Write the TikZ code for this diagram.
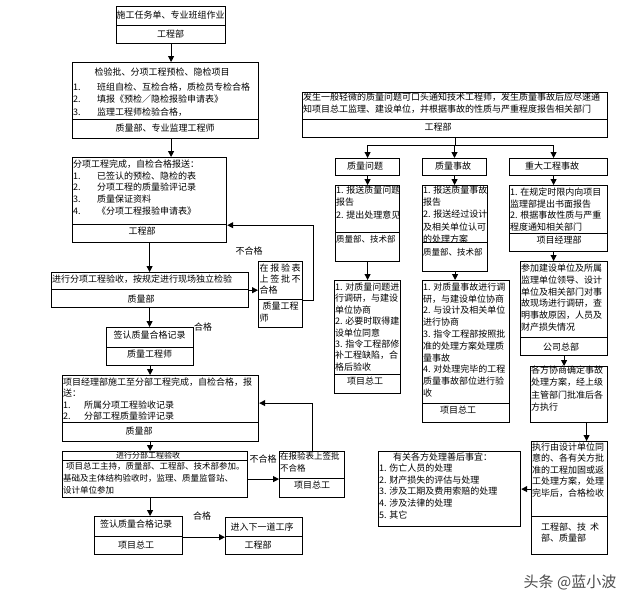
\documentclass[tikz,border=0pt]{standalone}
\usepackage{fontspec}
\setmainfont{Noto Sans CJK SC}
\usetikzlibrary{arrows.meta}
\newcommand\bxx[5]{\node[bx, minimum width={(#4-#2)*1pt}, minimum height={(#5-#3)*1pt}] (#1) at (#2,#3) {};}
\newcommand\nb[2][24pt]{\makebox[#1][l]{#2}}
\tikzset{
  bx/.style={draw, line width=1.2pt, inner sep=0pt, anchor=north west},
  tx/.style={inner sep=0pt, font=\fontsize{9}{11.7}\selectfont, align=left},
  arr/.style={line width=1pt, -{Triangle[length=6pt,width=6pt]}},
  ln/.style={line width=1pt},
  lab/.style={inner sep=0pt, font=\fontsize{9}{11}\selectfont}
}
\begin{document}
\begin{tikzpicture}[x=1pt,y=-1pt]
\fill[white] (0,0) rectangle (640,603);
\useasboundingbox (0,0) rectangle (640,603);

% ---------- left column ----------
\bxx{B1t}{116}{6}{225}{25}
\bxx{B1f}{116}{25}{225}{43}
\node[tx] (B1a) at (170.5,15) {施工任务单、专业班组作业};
\node[tx] (B1b) at (170.5,34) {工程部};

\bxx{B2t}{72}{62}{258}{119}
\bxx{B2f}{72}{119}{258}{138}
\node[tx] (B2a) at (162,72) {检验批、分项工程预检、隐检项目};
\node[tx, anchor=west, font=\fontsize{9}{12.2}\selectfont] (B2b) at (73,99.5) {\nb{1.}班组自检、互检合格，质检员专检合格\\\nb{2.}填报《预检／隐检报验申请表》\\\nb{3.}监理工程师检验合格，};
\node[tx] (B2c) at (165,128) {质量部、专业监理工程师};

\bxx{B3t}{72}{157}{226}{224}
\bxx{B3f}{72}{224}{226}{242}
\node[tx, anchor=west, font=\fontsize{9}{11.8}\selectfont] (B3a) at (73,187.5) {分项工程完成，自检合格报送：\\\nb{1.}已签认的预检、隐检的表\\\nb{2.}分项工程的质量验评记录\\\nb{3.}质量保证资料\\\nb{4.}《分项工程报验申请表》};
\node[tx] (B3b) at (142,231) {工程部};

\bxx{B4t}{51}{272}{248}{289}
\bxx{B4f}{51}{289}{248}{307}
\node[tx, anchor=west] (B4a) at (52,279.5) {进行分项工程验收，按规定进行现场独立检验};
\node[tx] (B4b) at (141,299) {质量部};

\bxx{B5t}{258}{261}{302}{299}
\bxx{B5f}{258}{299}{302}{327}
\node[tx, anchor=west, font=\fontsize{9}{11.2}\selectfont] (B5a) at (259.5,279) {\makebox[41pt][s]{在 报 验 表}\\\makebox[41pt][s]{上 签 批 不}\\合格};
\node[tx, anchor=west, font=\fontsize{9}{11.2}\selectfont] (B5b) at (259.5,312) {\hspace{3pt}质量工程\\师};

\bxx{B6t}{106}{327}{193}{347}
\bxx{B6f}{106}{347}{193}{365}
\node[tx] (B6a) at (149.5,335) {签认质量合格记录};
\node[tx] (B6b) at (149.5,354) {质量工程师};

\bxx{B7t}{62}{375}{258}{422}
\bxx{B7f}{62}{422}{258}{441}
\node[tx, anchor=west, font=\fontsize{9}{11.3}\selectfont] (B7a) at (63,399) {项目经理部施工至分部工程完成，自检合格，报\\送：\\\nb[21pt]{1.}所属分项工程验收记录\\\nb[21pt]{2.}分部工程质量验评记录};
\node[tx] (B7b) at (139,431) {质量部};

\bxx{B8t}{62}{451}{247}{460}
\bxx{B8b}{62}{460}{247}{497}
\node[tx, font=\fontsize{8}{9}\selectfont] (B8a) at (148,455.5) {进行分部工程验收};
\node[tx, anchor=west, font=\fontsize{8.5}{12}\selectfont] (B8c) at (63,478) {\hspace{3pt}项目总工主持，质量部、工程部、技术部参加。\\基础及主体结构验收时，监理、质量监督站、\\设计单位参加};

\bxx{B9t}{279}{451}{344}{478}
\bxx{B9f}{279}{478}{344}{497}
\node[tx, anchor=west, font=\fontsize{8.5}{11.5}\selectfont] (B9a) at (280,462) {在报验表上签批\\不合格};
\node[tx] (B9b) at (312,485) {项目总工};

\bxx{B10t}{94}{516}{182}{536}
\bxx{B10f}{94}{536}{182}{554}
\node[tx] (B10a) at (136,524) {签认质量合格记录};
\node[tx] (B10b) at (136,545) {项目总工};

\bxx{B11t}{225}{517}{302}{536}
\bxx{B11f}{225}{536}{302}{554}
\node[tx] (B11a) at (262,527) {进入下一道工序};
\node[tx] (B11b) at (258,545) {工程部};

% connectors left
\draw[arr] (B1f.south) -- (B1f.south |- B2t.north);
\draw[arr] (B2f.south -| B1f.south) -- (B3t.north -| B1f.south);
\draw[arr] (B3f.south) -- (B3f.south |- B4t.north);
\draw[arr] (B4t.south east) -- (B4t.south east -| B5t.west);
\draw[arr] (B5t.south east) -- ++(10,0) |- (B3t.south east);
\draw[arr] (B4f.south -| B3f.south) -- (B6t.north -| B3f.south);
\draw[arr] (B6f.south) -- (B6f.south |- B7t.north);
\draw[arr] (B7f.south -| B6f.south) -- (B8t.north -| B6f.south);
\draw[arr] (B8b.east) -- (B8b.east -| B9t.west);
\draw[arr] (B9t.north) |- ([yshift=-4pt]B7t.east);
\draw[arr] (B8b.south -| B6f.south) -- (B10t.north -| B6f.south);
\draw[arr] (B10t.south east) -- (B10t.south east -| B11t.west);

\node[lab] (L1) at (249,251) {不合格};
\node[lab] (L2) at (203,327) {合格};
\node[lab] (L3) at (263,459) {不合格};
\node[lab] (L4) at (202,516) {合格};

% ---------- right part ----------
\bxx{R1t}{302}{92}{607}{119}
\bxx{R1f}{302}{119}{607}{137}
\node[tx, anchor=west, font=\fontsize{9}{12}\selectfont] (R1a) at (303,103) {发生一般轻微的质量问题可口头通知技术工程师，发生质量事故后应尽速通\\知项目总工监理、建设单位，并根据事故的性质与严重程度报告相关部门};
\node[tx] (R1b) at (438,127) {工程部};

\bxx{Q1}{335}{158}{399}{175}
\bxx{Q2}{422}{158}{486}{175}
\bxx{Q3}{509}{158}{607}{175}
\node[tx] (Q1a) at (365,166.5) {质量问题};
\node[tx] (Q2a) at (453,166.5) {质量事故};
\node[tx] (Q3a) at (552,166.5) {重大工程事故};

\bxx{Q1bt}{335}{185}{399}{232}
\bxx{Q1bf}{335}{232}{399}{261}
\node[tx, anchor=west, font=\fontsize{9}{12.5}\selectfont] (Q1ba) at (336,202.5) {1. 报送质量问题\\报告\\2. 提出处理意见};
\node[tx, anchor=west, font=\fontsize{8.5}{11}\selectfont] (Q1bb) at (336,239) {质量部、技术部};

\bxx{Q1ct}{334}{280}{400}{374}
\bxx{Q1cf}{334}{374}{400}{393}
\node[tx, anchor=west, font=\fontsize{9}{11.43}\selectfont] (Q1ca) at (335,327) {1. 对质量问题进\\行调研，与建设\\单位协商\\2. 必要时取得建\\设单位同意\\3. 指令工程部修\\补工程缺陷，合\\格后验收};
\node[tx] (Q1cb) at (365,381) {项目总工};

\bxx{Q2bt}{422}{185}{487}{242}
\bxx{Q2bf}{422}{242}{487}{271}
\node[tx, anchor=west, font=\fontsize{9}{12.2}\selectfont] (Q2ba) at (423,214.5) {1. 报送质量事故\\报告\\2. 报送经过设计\\及相关单位认可\\的处理方案};
\node[tx, anchor=west, font=\fontsize{8.5}{11}\selectfont] (Q2bb) at (423,252) {质量部、技术部};

\bxx{Q2ct}{422}{280}{509}{403}
\bxx{Q2cf}{422}{403}{509}{422}
\node[tx, anchor=west, font=\fontsize{9}{11.78}\selectfont] (Q2ca) at (423,340) {1. 对质量事故进行调\\研，与建设单位协商\\2. 与设计及相关单位\\进行协商\\3. 指令工程部按照批\\准的处理方案处理质\\量事故\\4. 对处理完毕的工程\\质量事故部位进行验\\收};
\node[tx] (Q2cb) at (458,410) {项目总工};

\bxx{Q3bt}{509}{185}{607}{233}
\bxx{Q3bf}{509}{233}{607}{251}
\node[tx, anchor=west, font=\fontsize{9}{11.7}\selectfont] (Q3ba) at (510,209.5) {1. 在规定时限内向项目\\监理部提出书面报告\\2. 根据事故性质与严重\\程度通知相关部门};
\node[tx] (Q3bb) at (559,240) {项目经理部};

\bxx{Q3ct}{520}{261}{607}{337}
\bxx{Q3cf}{520}{337}{607}{355}
\node[tx, anchor=west, font=\fontsize{9}{11.8}\selectfont] (Q3ca) at (521,297.5) {参加建设单位及所属\\监理单位领导、设计\\单位及相关部门对事\\故现场进行调研，查\\明事故原因，人员及\\财产损失情况};
\node[tx] (Q3cb) at (561,347) {公司总部};

\bxx{Q3d}{530}{366}{607}{422}
\node[tx, anchor=west, font=\fontsize{9}{12.3}\selectfont] (Q3da) at (531,388.5) {各方协商确定事故\\处理方案，经上级\\主管部门批准后各\\方执行};

\bxx{Q3et}{531}{441}{607}{516}
\bxx{Q3ef}{531}{516}{607}{554}
\node[tx, anchor=west, font=\fontsize{9}{11.5}\selectfont] (Q3ea) at (532,470) {执行由设计单位同\\意的、各有关方批\\准的工程加固或返\\工处理方案，处理\\完毕后，合格检收};
\node[tx, anchor=west, font=\fontsize{9}{11.5}\selectfont] (Q3eb) at (541,532.5) {\makebox[58pt][s]{工程部、技 术}\\部、质量部};

\bxx{F}{378}{451}{520}{526}
\node[tx, anchor=west] (Fa) at (393,457.5) {有关各方处理善后事宜：};
\node[tx, anchor=west, font=\fontsize{9}{11.7}\selectfont] (Fb) at (379,491.5) {1. 伤亡人员的处理\\2. 财产损失的评估与处理\\3. 涉及工期及费用索赔的处理\\4. 涉及法律的处理\\5. 其它};

% connectors right
\coordinate (J) at (454.5,145);
\draw[ln] (R1f.south) -- (R1f.south |- J);
\draw[arr] (J) -| (Q1.north);
\draw[arr] (J) -- (J |- Q2.north);
\draw[arr] (J) -| ([xshift=-5pt]Q3.north);
\draw[arr] (Q1.south) -- (Q1.south |- Q1bt.north);
\draw[arr] (Q1bf.south) -- (Q1bf.south |- Q1ct.north);
\draw[arr] (Q2.south) -- (Q2.south |- Q2bt.north);
\draw[arr] (Q2bf.south) -- (Q2bf.south |- Q2ct.north);
\draw[arr] ([xshift=-5pt]Q3.south) -- ([xshift=-5pt]Q3.south |- Q3bt.north);
\draw[arr] ([xshift=-5pt]Q3bf.south) -- ([xshift=-5pt]Q3bf.south |- Q3ct.north);
\draw[arr] (Q3cf.south) -- (Q3cf.south |- Q3d.north);
\draw[arr] ([xshift=17.5pt]Q3d.south) -- ([xshift=17.5pt]Q3d.south |- Q3et.north);
\draw[arr] (F.east -| Q3et.west) -- (F.east);

% watermark
\node[inner sep=0pt, text=black!70, font=\fontsize{15}{15}\selectfont] (WM) at (570,582) {头条 @蓝小波};
\end{tikzpicture}
\end{document}
